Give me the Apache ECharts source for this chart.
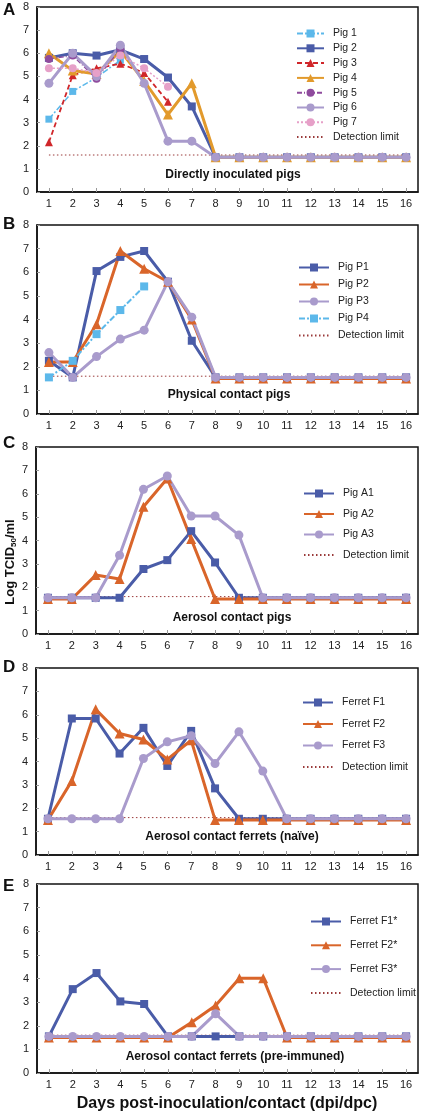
<!DOCTYPE html>
<html><head><meta charset="utf-8">
<script src="https://cdn.jsdelivr.net/npm/echarts@6/dist/echarts.min.js"></script>
<style>html,body{margin:0;padding:0;background:#fff}#c{width:425px;height:1111px}</style>
</head><body><div id="c"></div>
<script>
// ---------- DATA ----------
const days = ['1','2','3','4','5','6','7','8','9','10','11','12','13','14','15','16'];
const detectionLimit = [1.6,1.6,1.6,1.6,1.6,1.6,1.6,1.6,1.6,1.6,1.6,1.6,1.6,1.6,1.6,1.6];

// Panel A: directly inoculated pigs
const pig1 = [3.15,4.35,4.95,5.7,null,null,null,null,null,null,null,null,null,null,null,null];
const pig2 = [5.8,6.0,5.9,6.15,5.75,4.95,3.7,1.5,1.5,1.5,1.5,1.5,1.5,1.5,1.5,1.5];
const pig3 = [2.15,5.05,5.35,5.55,5.15,3.9,null,null,null,null,null,null,null,null,null,null];
const pig4 = [6.0,5.25,5.1,6.1,4.8,3.35,4.7,1.5,1.5,1.5,1.5,1.5,1.5,1.5,1.5,1.5];
const pig5 = [5.75,5.9,4.9,6.2,null,null,null,null,null,null,null,null,null,null,null,null];
const pig6 = [4.7,6.0,5.0,6.35,4.7,2.2,2.2,1.5,1.5,1.5,1.5,1.5,1.5,1.5,1.5,1.5];
const pig7 = [5.35,5.35,5.15,5.9,5.35,4.55,null,null,null,null,null,null,null,null,null,null];

// Panel B: physical contact pigs
const pigP1 = [2.25,1.55,6.05,6.65,6.9,5.6,3.1,1.55,1.55,1.55,1.55,1.55,1.55,1.55,1.55,1.55];
const pigP2 = [2.2,2.2,3.8,6.9,6.15,5.6,4.0,1.5,1.5,1.5,1.5,1.5,1.5,1.5,1.5,1.5];
const pigP3 = [2.6,1.55,2.43,3.17,3.55,5.6,4.1,1.55,1.55,1.55,1.55,1.55,1.55,1.55,1.55,1.55];
const pigP4 = [1.55,2.25,3.38,4.4,5.4,null,null,null,null,null,null,null,null,null,null,null];

// Panel C: aerosol contact pigs
const pigA1 = [1.55,1.55,1.55,1.55,2.78,3.16,4.4,3.06,1.55,1.55,1.55,1.55,1.55,1.55,1.55,1.55];
const pigA2 = [1.5,1.5,2.52,2.35,5.44,6.65,4.06,1.5,1.5,1.5,1.5,1.5,1.5,1.5,1.5,1.5];
const pigA3 = [1.55,1.55,1.55,3.37,6.19,6.76,5.05,5.05,4.23,1.55,1.55,1.55,1.55,1.55,1.55,1.55];

// Panel D: aerosol contact ferrets (naive)
const ferretF1 = [1.55,5.84,5.84,4.34,5.44,3.81,5.31,2.85,1.55,1.55,1.55,1.55,1.55,1.55,1.55,1.55];
const ferretF2 = [1.5,3.17,6.23,5.2,4.94,4.09,4.91,1.5,1.5,1.5,1.5,1.5,1.5,1.5,1.5,1.5];
const ferretF3 = [1.55,1.55,1.55,1.55,4.13,4.84,5.1,3.91,5.27,3.59,1.55,1.55,1.55,1.55,1.55,1.55];

// Panel E: aerosol contact ferrets (pre-immuned)
const ferretF1s = [1.55,3.55,4.23,3.03,2.92,1.55,1.55,1.55,1.55,1.55,1.55,1.55,1.55,1.55,1.55,1.55];
const ferretF2s = [1.5,1.5,1.5,1.5,1.5,1.5,2.15,2.86,4.01,4.01,1.5,1.5,1.5,1.5,1.5,1.5];
const ferretF3s = [1.55,1.55,1.55,1.55,1.55,1.55,1.55,2.51,1.55,1.55,1.55,1.55,1.55,1.55,1.55,1.55];

// ---------- STYLE ----------
const FONT = 'Liberation Sans, Arial, Helvetica, sans-serif';
const C_BLUE = '#4a5ca8', C_ORANGE = '#d9652a', C_LAV = '#a99bcc', C_LBLUE = '#5cb8ea',
      C_RED = '#d0262a', C_GOLD = '#e29a2c', C_PURP = '#8f4b9d', C_PINK = '#e6a0c8', C_DET = '#9a3a3a';

const grids = [
  {left:37, top:7, width:381, height:185},
  {left:37, top:225, width:381, height:189},
  {left:36, top:447, width:382, height:187},
  {left:36, top:668, width:382, height:187},
  {left:37, top:884, width:381, height:189}
];

function mkLine(name, data, gi, color, width, type, symbol, size) {
  return {
    name, type:'line', data, xAxisIndex:gi, yAxisIndex:gi,
    symbol, symbolSize:size, showSymbol: symbol !== 'none',
    connectNulls:false, animation:false,
    lineStyle:{color, width, type},
    itemStyle:{color, borderWidth:0}
  };
}
function det(gi) {
  return {name:'Detection limit', type:'line', data:detectionLimit, xAxisIndex:gi, yAxisIndex:gi,
    symbol:'none', animation:false, z:1,
    lineStyle:{color:C_DET, width:1, type:[1.5,2.5]}, itemStyle:{color:C_DET}};
}

const series = [
  det(0),
  mkLine('Pig 1', pig1, 0, C_LBLUE, 1.5, [6,2,2,2], 'rect', 7),
  mkLine('Pig 2', pig2, 0, C_BLUE, 3, 'solid', 'rect', 8),
  mkLine('Pig 3', pig3, 0, C_RED, 1.8, [5,3], 'triangle', 8),
  mkLine('Pig 4', pig4, 0, C_GOLD, 3, 'solid', 'triangle', 10),
  mkLine('Pig 5', pig5, 0, C_PURP, 1.5, [5,2,1,2], 'circle', 8),
  mkLine('Pig 6', pig6, 0, C_LAV, 3, 'solid', 'circle', 9),
  mkLine('Pig 7', pig7, 0, C_PINK, 1.5, [2,2], 'circle', 8),

  det(1),
  mkLine('Pig P1', pigP1, 1, C_BLUE, 3, 'solid', 'rect', 8),
  mkLine('Pig P2', pigP2, 1, C_ORANGE, 3, 'solid', 'triangle', 10),
  mkLine('Pig P3', pigP3, 1, C_LAV, 3, 'solid', 'circle', 9),
  mkLine('Pig P4', pigP4, 1, C_LBLUE, 2, [6,2,2,2], 'rect', 8),

  det(2),
  mkLine('Pig A1', pigA1, 2, C_BLUE, 3, 'solid', 'rect', 8),
  mkLine('Pig A2', pigA2, 2, C_ORANGE, 3, 'solid', 'triangle', 10),
  mkLine('Pig A3', pigA3, 2, C_LAV, 3, 'solid', 'circle', 9),

  det(3),
  mkLine('Ferret F1', ferretF1, 3, C_BLUE, 3, 'solid', 'rect', 8),
  mkLine('Ferret F2', ferretF2, 3, C_ORANGE, 3, 'solid', 'triangle', 10),
  mkLine('Ferret F3', ferretF3, 3, C_LAV, 3, 'solid', 'circle', 9),

  det(4),
  mkLine('Ferret F1*', ferretF1s, 4, C_BLUE, 3, 'solid', 'rect', 8),
  mkLine('Ferret F2*', ferretF2s, 4, C_ORANGE, 3, 'solid', 'triangle', 10),
  mkLine('Ferret F3*', ferretF3s, 4, C_LAV, 3, 'solid', 'circle', 9)
];

const DET_ITEM = {name:'Detection limit', itemStyle:{opacity:0, color:'transparent'}};
const legendNames = [
  ['Pig 1','Pig 2','Pig 3','Pig 4','Pig 5','Pig 6','Pig 7', DET_ITEM],
  ['Pig P1','Pig P2','Pig P3','Pig P4', DET_ITEM],
  ['Pig A1','Pig A2','Pig A3', DET_ITEM],
  ['Ferret F1','Ferret F2','Ferret F3', DET_ITEM],
  ['Ferret F1*','Ferret F2*','Ferret F3*', DET_ITEM]
];
const legendPos = [
  {left:296, top:28, itemGap:3.8, itemWidth:27},
  {left:298, top:262, itemGap:6, itemWidth:30},
  {left:303, top:488, itemGap:9.5, itemWidth:30},
  {left:302, top:697, itemGap:10.5, itemWidth:30},
  {left:310, top:916, itemGap:12.8, itemWidth:30}
];
const legends = legendNames.map((names, i) => ({
  data: names, orient:'vertical', padding:0,
  left: legendPos[i].left, top: legendPos[i].top, itemGap: legendPos[i].itemGap,
  itemWidth: legendPos[i].itemWidth, itemHeight: 10, selectedMode:false,
  textStyle:{fontFamily:FONT, fontSize:10.5, color:'#222', padding:[0,0,0,4]}
}));

const xAxes = grids.map((g, i) => ({
  type:'category', data:days, gridIndex:i, boundaryGap:true,
  axisLine:{show:true, lineStyle:{color:'#111', width:1.5}},
  axisTick:{show:true, inside:true, alignWithLabel:true, length:4, lineStyle:{color:'#999'}},
  axisLabel:{fontFamily:FONT, fontSize:11, color:'#222', margin:6},
  splitLine:{show:false}
}));
const yAxes = grids.map((g, i) => ({
  type:'value', gridIndex:i, min:0, max:8, interval:1,
  axisLine:{show:true, lineStyle:{color:'#111', width:1.5}},
  axisTick:{show:true, inside:true, length:3, lineStyle:{color:'#999'}},
  axisLabel:{fontFamily:FONT, fontSize:11, color:'#222', margin:8},
  splitLine:{show:false}
}));

const captions = [
  {text:'Directly inoculated pigs', x:233, y:175},
  {text:'Physical contact pigs', x:229, y:395},
  {text:'Aerosol contact pigs', x:232, y:618},
  {text:'Aerosol contact ferrets (naïve)', x:232, y:837},
  {text:'Aerosol contact ferrets (pre-immuned)', x:235, y:1057}
];
const letters = [
  {text:'A', y:10}, {text:'B', y:224}, {text:'C', y:443}, {text:'D', y:667}, {text:'E', y:886}
];

const graphic = [];
captions.forEach(c => graphic.push({type:'text', x:c.x, y:c.y,
  style:{text:c.text, fontFamily:FONT, fontSize:12, fontWeight:'bold', fill:'#111', align:'center', verticalAlign:'middle'}}));
letters.forEach(l => graphic.push({type:'text', x:3, y:l.y,
  style:{text:l.text, fontFamily:FONT, fontSize:17, fontWeight:'bold', fill:'#111', align:'left', verticalAlign:'middle'}}));
graphic.push({type:'text', x:227, y:1104,
  style:{text:'Days post-inoculation/contact (dpi/dpc)', fontFamily:FONT, fontSize:16, fontWeight:'bold', fill:'#111', align:'center', verticalAlign:'middle'}});
graphic.push({type:'text', x:10, y:562, rotation:Math.PI/2,
  style:{text:'{a|Log TCID}{b|50}{a|/ml}', align:'center', verticalAlign:'middle',
    rich:{a:{fontFamily:FONT, fontSize:13, fontWeight:'bold', fill:'#111', lineHeight:16},
          b:{fontFamily:FONT, fontSize:8, fontWeight:'bold', fill:'#111', lineHeight:16, verticalAlign:'bottom'}}}});

const chart = echarts.init(document.getElementById('c'), null, {renderer:'canvas'});
chart.setOption({
  animation:false, backgroundColor:'#fff',
  grid: grids.map(g => Object.assign({show:true, borderColor:'#111', borderWidth:1.5, containLabel:false}, g)),
  xAxis: xAxes, yAxis: yAxes, legend: legends, series, graphic
});
</script></body></html>
